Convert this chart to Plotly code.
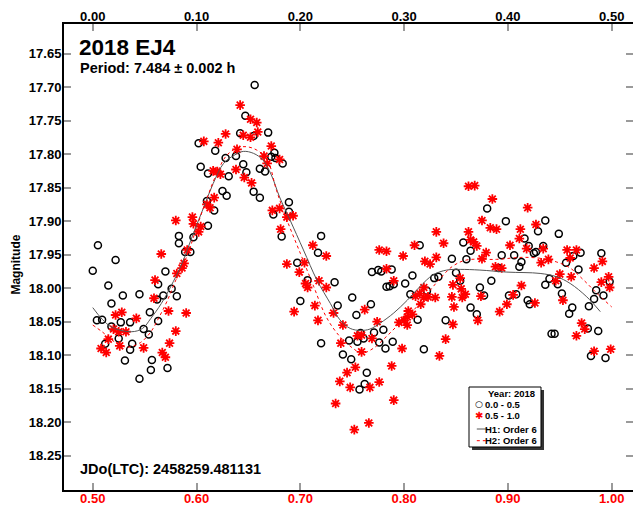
import plotly.graph_objects as go

# ---------------- data (phase on the 0.00-0.50 scale, magnitude) ----------------
circle_phase = [0.147, 0.142, 0.155, 0.102, 0.118, 0.138, 0.128, 0.145, 0.104, 0.111,
                0.131, 0.148, 0.161, 0.155, 0.161, 0.125, 0.129, 0.117, 0.110, 0.111,
                0.083, 0.083, 0.097, 0.005, 0.156, 0.169, 0.175, 0.172, 0.176, 0.183,
                0.166, 0.189, 0.189, 0.174, 0.182, 0.220, 0.315, 0.380, 0.398, 0.436,
                0.429, 0.449, 0.416, 0.357, 0.420, 0.364, 0.425, 0.427, 0.434, 0.470,
                0.490, 0.346, 0.394, 0.406, 0.360, 0.463, 0.413, 0.411, 0.456, 0.391,
                0.468, 0.350, 0.329, 0.333, 0.440, 0.498, 0.384, 0.436, 0.448, 0.373,
                0.354, 0.485, 0.377, 0.452, 0.401, 0.408, 0.492, 0.483, 0.419, 0.421,
                0.364, 0.478, 0.462, 0.459, 0.370, 0.340, 0.477, 0.487, 0.442, 0.445,
                0.480, 0.494, 0.089, 0.094, 0.022, 0.070, 0.000, 0.063, 0.015, 0.076,
                0.029, 0.045, 0.068, 0.081, 0.062, 0.018, 0.055, 0.063, 0.004, 0.009,
                0.027, 0.036, 0.018, 0.049, 0.054, 0.025, 0.012, 0.038, 0.036, 0.031,
                0.057, 0.056, 0.072, 0.045, 0.217, 0.197, 0.269, 0.275, 0.278, 0.288,
                0.308, 0.207, 0.233, 0.283, 0.286, 0.290, 0.301, 0.306, 0.322, 0.200,
                0.250, 0.236, 0.268, 0.254, 0.313, 0.280, 0.271, 0.258, 0.261, 0.247,
                0.255, 0.276, 0.289, 0.282, 0.220, 0.319, 0.241, 0.249, 0.264, 0.262,
                0.257]
circle_mag = [17.743, 17.769, 17.773, 17.784, 17.795, 17.803, 17.806, 17.815, 17.819, 17.829,
              17.833, 17.827, 17.822, 17.856, 17.865, 17.855, 17.862, 17.884, 17.870, 17.907,
              17.922, 17.933, 17.924, 17.936, 17.697, 17.768, 17.798, 17.804, 17.806, 17.814,
              17.826, 17.872, 17.886, 17.890, 17.923, 17.922, 17.936, 17.881, 17.900, 17.899,
              17.915, 17.919, 17.926, 17.932, 17.937, 17.944, 17.948, 17.946, 17.937, 17.947,
              17.948, 17.956, 17.951, 17.951, 17.957, 17.952, 17.961, 17.968, 17.962, 17.970,
              17.972, 17.977, 17.985, 17.983, 17.986, 17.990, 17.989, 17.995, 17.994, 17.999,
              17.989, 18.003, 18.011, 18.008, 18.011, 18.009, 18.011, 18.016, 18.018, 18.024,
              18.029, 18.027, 18.029, 18.038, 18.039, 18.048, 18.060, 18.064, 18.068, 18.068,
              18.101, 18.104, 17.946, 17.946, 17.958, 17.975, 17.974, 17.994, 17.996, 18.001,
              18.011, 18.009, 18.011, 18.012, 18.017, 18.023, 18.036, 18.049, 18.048, 18.047,
              18.051, 18.051, 18.057, 18.061, 18.069, 18.075, 18.083, 18.083, 18.092, 18.108,
              18.107, 18.122, 18.119, 18.135, 17.947, 17.962, 17.976, 17.973, 17.975, 17.972,
              17.981, 17.988, 17.991, 17.998, 17.997, 17.994, 17.993, 18.009, 18.004, 18.019,
              18.014, 18.026, 18.024, 18.040, 18.047, 18.062, 18.066, 18.067, 18.075, 18.078,
              18.080, 18.081, 18.080, 18.090, 18.082, 18.091, 18.099, 18.106, 18.126, 18.143,
              18.151]

star_phase = [0.142, 0.152, 0.158, 0.159, 0.145, 0.152, 0.107, 0.121, 0.128, 0.139,
              0.116, 0.120, 0.123, 0.138, 0.146, 0.153, 0.117, 0.110, 0.113, 0.080,
              0.096, 0.097, 0.104, 0.102, 0.091, 0.172, 0.165, 0.168, 0.180, 0.173,
              0.180, 0.187, 0.193, 0.181, 0.212, 0.310, 0.331, 0.362, 0.368, 0.385,
              0.419, 0.375, 0.383, 0.389, 0.427, 0.412, 0.362, 0.411, 0.364, 0.367,
              0.338, 0.370, 0.402, 0.418, 0.434, 0.457, 0.466, 0.379, 0.375, 0.331,
              0.460, 0.439, 0.432, 0.491, 0.388, 0.394, 0.483, 0.450, 0.461, 0.354,
              0.497, 0.490, 0.347, 0.446, 0.413, 0.498, 0.355, 0.359, 0.346, 0.356,
              0.330, 0.374, 0.405, 0.453, 0.426, 0.399, 0.348, 0.392, 0.371, 0.347,
              0.471, 0.474, 0.466, 0.340, 0.483, 0.499, 0.334, 0.066, 0.088, 0.086,
              0.081, 0.060, 0.059, 0.073, 0.090, 0.022, 0.028, 0.042, 0.020, 0.025,
              0.032, 0.080, 0.015, 0.074, 0.026, 0.049, 0.008, 0.013, 0.067, 0.070,
              0.225, 0.187, 0.204, 0.199, 0.276, 0.283, 0.299, 0.320, 0.325, 0.283,
              0.218, 0.205, 0.207, 0.225, 0.290, 0.319, 0.311, 0.315, 0.319, 0.323,
              0.316, 0.214, 0.262, 0.194, 0.232, 0.304, 0.308, 0.303, 0.295, 0.300,
              0.303, 0.217, 0.274, 0.241, 0.255, 0.259, 0.269, 0.239, 0.298, 0.259,
              0.288, 0.253, 0.245, 0.238, 0.276, 0.248, 0.267, 0.290, 0.234, 0.266,
              0.252]
star_mag = [17.727, 17.748, 17.753, 17.767, 17.772, 17.775, 17.781, 17.783, 17.770, 17.793,
            17.825, 17.826, 17.830, 17.823, 17.835, 17.843, 17.865, 17.875, 17.880, 17.899,
            17.894, 17.904, 17.908, 17.916, 17.943, 17.788, 17.803, 17.814, 17.808, 17.884,
            17.881, 17.894, 17.892, 17.912, 17.936, 17.936, 17.916, 17.848, 17.847, 17.867,
            17.880, 17.899, 17.910, 17.912, 17.905, 17.912, 17.916, 17.926, 17.928, 17.931,
            17.933, 17.937, 17.936, 17.941, 17.941, 17.943, 17.943, 17.947, 17.956, 17.954,
            17.955, 17.957, 17.962, 17.960, 17.968, 17.970, 17.970, 17.979, 17.983, 17.985,
            17.983, 17.991, 17.995, 17.989, 17.996, 17.999, 18.001, 18.009, 18.013, 18.014,
            18.014, 18.012, 18.010, 18.018, 18.022, 18.024, 18.028, 18.035, 18.048, 18.054,
            18.052, 18.061, 18.071, 18.076, 18.094, 18.091, 18.101, 17.949, 17.963, 17.970,
            17.978, 17.988, 18.015, 18.034, 18.037, 18.040, 18.036, 18.045, 18.061, 18.065,
            18.065, 18.064, 18.076, 18.082, 18.086, 18.089, 18.090, 18.096, 18.096, 18.103,
            17.952, 17.964, 17.962, 17.976, 17.943, 17.945, 17.952, 17.960, 17.964, 17.971,
            17.989, 17.993, 17.999, 17.999, 17.989, 17.999, 18.012, 18.008, 18.014, 18.013,
            18.024, 18.026, 18.032, 18.035, 18.037, 18.034, 18.039, 18.043, 18.051, 18.048,
            18.055, 18.048, 18.050, 18.055, 18.071, 18.070, 18.075, 18.082, 18.090, 18.095,
            18.116, 18.118, 18.126, 18.139, 18.140, 18.148, 18.148, 18.167, 18.172, 18.201,
            18.211]

# Fourier fits
h1_phase = [0.000, 0.017, 0.037, 0.048, 0.056, 0.066, 0.075, 0.086, 0.097, 0.107,
            0.116, 0.126, 0.136, 0.145, 0.155, 0.164, 0.172, 0.180, 0.190, 0.203,
            0.216, 0.229, 0.238, 0.248, 0.258, 0.267, 0.277, 0.290, 0.303, 0.315,
            0.328, 0.341, 0.354, 0.373, 0.399, 0.431, 0.447, 0.460, 0.476, 0.489]
h1_mag = [18.029, 18.057, 18.065, 18.060, 18.045, 18.023, 17.998, 17.963, 17.918, 17.879,
          17.844, 17.814, 17.802, 17.796, 17.799, 17.809, 17.831, 17.864, 17.898, 17.943,
          17.988, 18.023, 18.047, 18.060, 18.063, 18.061, 18.052, 18.037, 18.018, 17.998,
          17.980, 17.973, 17.972, 17.973, 17.976, 17.978, 17.983, 17.993, 18.013, 18.035]

h2_phase = [0.000, 0.009, 0.021, 0.033, 0.046, 0.056, 0.064, 0.072, 0.080, 0.091,
            0.100, 0.110, 0.120, 0.129, 0.139, 0.148, 0.158, 0.168, 0.177, 0.187,
            0.200, 0.213, 0.225, 0.238, 0.251, 0.259, 0.270, 0.283, 0.296, 0.309,
            0.322, 0.335, 0.347, 0.360, 0.389, 0.415, 0.434, 0.447, 0.460, 0.473,
            0.486, 0.500]
h2_mag = [18.055, 18.065, 18.080, 18.088, 18.081, 18.065, 18.043, 18.018, 17.988, 17.951,
          17.910, 17.866, 17.827, 17.802, 17.791, 17.789, 17.794, 17.808, 17.854, 17.898,
          17.948, 17.998, 18.043, 18.072, 18.090, 18.097, 18.090, 18.072, 18.052, 18.033,
          18.009, 17.985, 17.967, 17.958, 17.957, 17.954, 17.956, 17.961, 17.970, 17.988,
          18.008, 18.028]

phase_ticks = [0.0, 0.1, 0.2, 0.3, 0.4, 0.5]
top_labels = ["0.00", "0.10", "0.20", "0.30", "0.40", "0.50"]
bottom_labels = ["0.50", "0.60", "0.70", "0.80", "0.90", "1.00"]
mag_ticks = [17.65, 17.70, 17.75, 17.80, 17.85, 17.90, 17.95, 18.00,
             18.05, 18.10, 18.15, 18.20, 18.25]
mag_labels = ["17.65", "17.70", "17.75", "17.80", "17.85", "17.90", "17.95", "18.00",
              "18.05", "18.10", "18.15", "18.20", "18.25"]
legend_title = "Year: 2018"
legend_names = ["0.0 - 0.5", "0.5 - 1.0", "H1: Order 6", "H2: Order 6"]

FONT = "Liberation Sans, Arial, sans-serif"
TICKC = "#9a9a9a"

fig = go.Figure()
fig.add_trace(go.Scatter(
    x=circle_phase, y=circle_mag, mode="markers", name=legend_names[0],
    marker=dict(symbol="circle-open", size=7, color="black", line=dict(width=1.5, color="black"))))
fig.add_trace(go.Scatter(
    x=star_phase, y=star_mag, mode="markers", name=legend_names[1],
    marker=dict(symbol="asterisk-open", size=8, color="red", line=dict(width=1.8, color="red"))))
fig.add_trace(go.Scatter(
    x=h1_phase, y=h1_mag, mode="lines", name=legend_names[2],
    line=dict(color="#555555", width=1, shape="spline")))
fig.add_trace(go.Scatter(
    x=h2_phase, y=h2_mag, mode="lines", name=legend_names[3],
    line=dict(color="red", width=1, dash="dot", shape="spline")))
# helper (empty) trace so the top / right axes get drawn
fig.add_trace(go.Scatter(x=[], y=[], xaxis="x2", yaxis="y2", showlegend=False, hoverinfo="skip"))

xr = [-0.0277, 0.5205]
yr = [18.301, 17.606]

# ---- compact legend box (drawn by hand, paper coordinates) ----
L_X0, L_X1, L_Y0, L_Y1 = 0.7118, 0.8383, 0.0923, 0.2210
row_y = [0.1845, 0.1594, 0.1309, 0.1058]
sym_x = 0.7299
txt_x = 0.7390
shapes = [
    dict(type="rect", xref="paper", yref="paper", x0=L_X0 + 0.0053, x1=L_X1 + 0.0053,
         y0=L_Y0 - 0.0064, y1=L_Y1 - 0.0064, line=dict(width=0), fillcolor="#333333", layer="above"),
    dict(type="rect", xref="paper", yref="paper", x0=L_X0, x1=L_X1, y0=L_Y0, y1=L_Y1,
         line=dict(width=1, color="black"), fillcolor="white", layer="above"),
    dict(type="line", xref="paper", yref="paper", x0=0.7255, x1=0.7440, y0=row_y[2], y1=row_y[2],
         line=dict(width=1, color="#555555"), layer="above"),
    dict(type="line", xref="paper", yref="paper", x0=0.7255, x1=0.7440, y0=row_y[3], y1=row_y[3],
         line=dict(width=1, color="red", dash="dot"), layer="above"),
]
LF = dict(family=FONT, size=9.5, weight="bold", color="black")
annotations = [
    dict(text="2018 EJ4", xref="paper", yref="paper", x=0.023, y=0.950,
         xanchor="left", yanchor="middle", showarrow=False,
         font=dict(family=FONT, size=22.5, weight="bold", color="black")),
    dict(text="Period: 7.484 ± 0.002 h", xref="paper", yref="paper", x=0.024, y=0.906,
         xanchor="left", yanchor="middle", showarrow=False,
         font=dict(family=FONT, size=14.5, weight="bold", color="black")),
    dict(text="JDo(LTC): 2458259.481131", xref="paper", yref="paper", x=0.024, y=0.044,
         xanchor="left", yanchor="middle", showarrow=False,
         font=dict(family=FONT, size=14.5, weight="bold", color="black")),
    dict(text="Magnitude", xref="paper", yref="paper", x=-0.085, y=0.483, textangle=-90,
         xanchor="center", yanchor="middle", showarrow=False,
         font=dict(family=FONT, size=12, weight="bold", color="black")),
    dict(text=legend_title, xref="paper", yref="paper", x=0.7868, y=0.2075,
         xanchor="center", yanchor="middle", showarrow=False, font=LF),
    dict(text="○", xref="paper", yref="paper", x=sym_x, y=row_y[0],
         xanchor="center", yanchor="middle", showarrow=False,
         font=dict(family="DejaVu Sans", size=9, color="black", weight="bold")),
    dict(text="✱", xref="paper", yref="paper", x=sym_x, y=row_y[1],
         xanchor="center", yanchor="middle", showarrow=False,
         font=dict(family="DejaVu Sans", size=10, color="red")),
]
for name, ry in zip(legend_names, row_y):
    annotations.append(dict(text=name, xref="paper", yref="paper", x=txt_x, y=ry,
                            xanchor="left", yanchor="middle", showarrow=False,
                            borderpad=0, font=LF))

axis_common = dict(ticks="inside", ticklen=7, tickwidth=1.5, tickcolor=TICKC,
                   showgrid=False, zeroline=False, automargin=False)

fig.update_layout(
    width=634, height=508,
    margin=dict(l=64, r=1, t=24, b=18),
    paper_bgcolor="white", plot_bgcolor="white",
    font=dict(family=FONT, color="black"),
    showlegend=False,
    xaxis=dict(range=xr, side="bottom", tickvals=phase_ticks, ticktext=bottom_labels,
               tickfont=dict(family=FONT, size=13, color="red", weight="bold"),
               ticklabelstandoff=-5,
               showline=True, linewidth=2, linecolor="black", **axis_common),
    xaxis2=dict(range=xr, overlaying="x", side="top", matches="x",
                tickvals=phase_ticks, ticktext=top_labels,
                tickfont=dict(family=FONT, size=13, color="black", weight="bold"),
                ticklabelstandoff=-4,
                showline=True, linewidth=2, linecolor="black", **axis_common),
    yaxis=dict(range=yr, tickvals=mag_ticks, ticktext=mag_labels,
               tickfont=dict(family=FONT, size=13, color="black", weight="bold"),
               ticklabelstandoff=-2,
               showline=True, linewidth=2, linecolor="black", **axis_common),
    yaxis2=dict(range=yr, overlaying="y", side="right", matches="y",
                tickvals=mag_ticks, showticklabels=False, showline=False, **axis_common),
    shapes=shapes,
    annotations=annotations,
)

fig.write_html("out.html", config={"displayModeBar": False},
               post_script="document.body.style.margin='0';document.body.style.overflow='hidden';")
